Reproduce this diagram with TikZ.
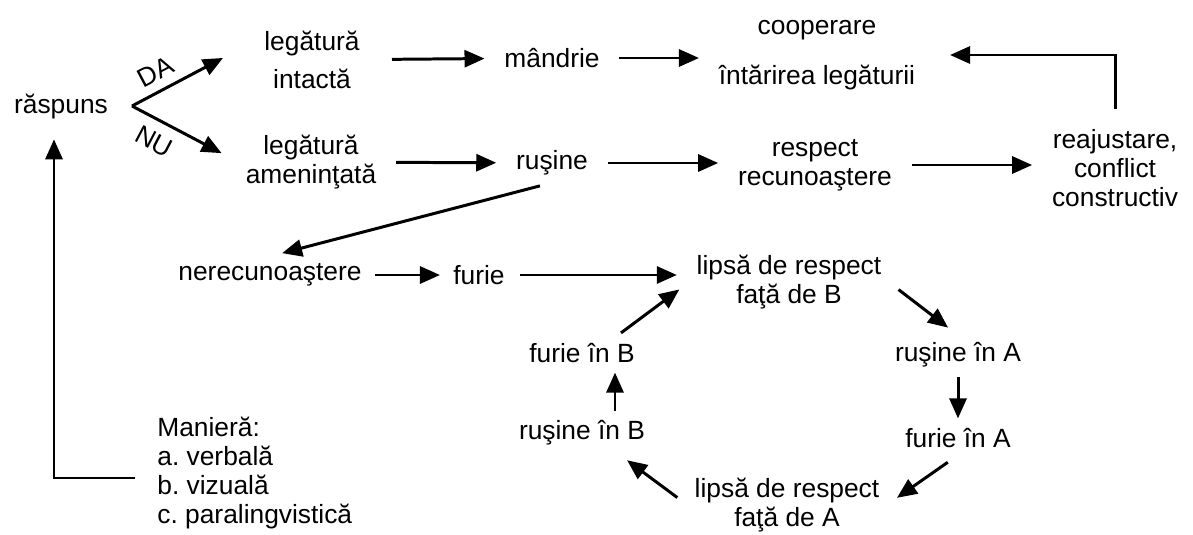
\documentclass[tikz,border=0pt]{standalone}
\usepackage{fontspec}
\setmainfont{Liberation Sans}
\usetikzlibrary{arrows.meta}
\frenchspacing

\begin{document}
\begin{tikzpicture}[
  x=0.02cm, y=-0.02cm,
  txt/.style={font=\fontsize{15}{16.5}\selectfont, align=center, inner sep=4pt},
  arr/.style={line width=1.7pt, -{Triangle[length=0.4cm,width=0.34cm]},
    shorten >=0.25cm, shorten <=0.25cm},
]
\useasboundingbox (0,0) rectangle (1193,534);

\node[txt] (raspuns) at (61,107) {răspuns};
\coordinate (fork) at (132,106);
\node[txt] (legI) at (312,60) {legătură\\[5pt]intactă};
\node[txt] (legA) at (311,162) {legătură\\ameninţată};
\node[txt] (mandrie) at (552,58) {mândrie};
\node[txt] (rusine) at (552,163) {ruşine};
\node[txt] (coop) at (817,55) {cooperare\\[12pt]întărirea legăturii};
\node[txt] (respect) at (815,165) {respect\\recunoaştere};
\node[txt] (reaj) at (1115,168) {reajustare,\\conflict\\constructiv};
\node[txt] (nerec) at (270,275) {nerecunoaştere};
\node[txt] (furie) at (479,275) {furie};
\node[txt] (lipsaB) at (789,282) {lipsă de respect\\faţă de B};
\node[txt] (furieB) at (582,353) {furie în B};
\node[txt] (rusineB) at (582,433) {ruşine în B};
\node[txt] (rusineA) at (958,355) {ruşine în A};
\node[txt] (furieA) at (958,438) {furie în A};
\node[txt] (lipsaA) at (787,505) {lipsă de respect\\faţă de A};
\node[txt, align=left, anchor=west] (manier) at (150,473)
  {Manieră:\\a. verbală\\b. vizuală\\c. paralingvistică};

\draw[arr, shorten <=0pt, shorten >=0.77cm] (fork) -- node[txt, inner sep=1pt, pos=0.26, sloped, above=4pt] {DA} (legI.160);
\draw[arr, shorten <=0pt, shorten >=0.38cm] (fork) -- node[txt, inner sep=1pt, pos=0.3, sloped, below=5pt] {NU} (legA.west);
\draw[arr, shorten <=0.5cm] (legI) -- (mandrie);
\draw[arr] (mandrie.east) -- (mandrie.east -| coop.west);
\draw[arr] (legA) -- (rusine);
\draw[arr] (rusine.east) -- (rusine.east -| respect.west);
\draw[arr] (respect.east) -- (respect.east -| reaj.west);
\draw[arr, shorten >=0.55cm] (reaj.north) |- (coop.east);
\draw[arr] (rusine.south) -- (nerec.north);
\draw[arr, shorten <=0.12cm, shorten >=0.12cm] (nerec) -- (furie);
\draw[arr, shorten <=0.15cm] (furie.east) -- (furie.east -| lipsaB.west);
\draw[arr] (lipsaB.east) -- (rusineA.north);
\draw[arr, shorten <=0.05cm, shorten >=0.05cm] (rusineA) -- (furieA);
\draw[arr] (furieA.south) -- (lipsaA.east);
\draw[arr] (lipsaA.west) -- ([xshift=0.7cm]rusineB.south);
\draw[arr, shorten <=0.05cm, shorten >=0.05cm] ([xshift=0.66cm]rusineB.north) -- ([xshift=0.66cm]furieB.south);
\draw[arr, shorten <=0.1cm] ([xshift=0.7cm]furieB.north) -- (lipsaB.west);
\draw[arr, shorten <=0.3cm] ([yshift=-0.1cm]manier.west) -| ([xshift=-0.14cm]raspuns.south);
\end{tikzpicture}
\end{document}
